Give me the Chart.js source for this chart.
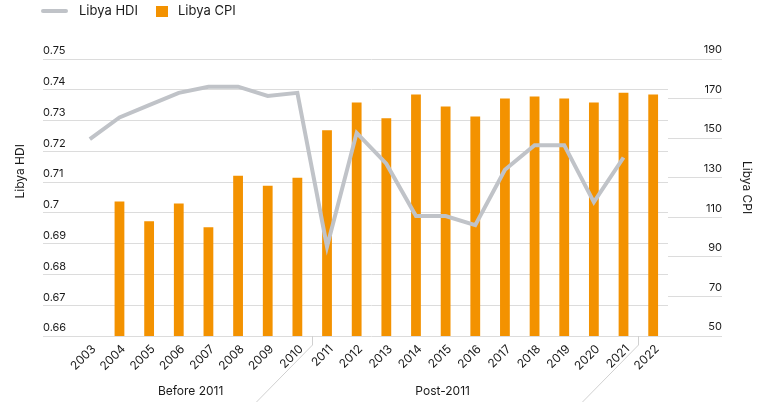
<!DOCTYPE html>
<html>
<head>
<meta charset="utf-8">
<script src="https://cdn.jsdelivr.net/npm/chart.js@4.4.1/dist/chart.umd.min.js"></script>
<style>
  html, body { margin: 0; padding: 0; background: #fff; }
  #wrap { width: 764px; height: 404px; position: relative; }
</style>
</head>
<body>
<div id="wrap"><canvas id="myChart"></canvas></div>
<script>
const years = ['2003', '2004', '2005', '2006', '2007', '2008', '2009', '2010', '2011', '2012',
               '2013', '2014', '2015', '2016', '2017', '2018', '2019', '2020', '2021', '2022'];
const hdiValues = [0.724, 0.731, 0.735, 0.739, 0.741, 0.741, 0.738, 0.739, 0.689, 0.726,
                   0.716, 0.699, 0.699, 0.696, 0.714, 0.722, 0.722, 0.7035, 0.718, null];
const cpiValues = [null, 118, 108, 117, 105, 131, 126, 130, 154, 168,
                   160, 172, 166, 161, 170, 171, 170, 168, 173, 172];
const groupLabels = ['Before 2011', 'Post-2011'];
const groupEnds = ['2010', '2021']; // separator drawn after these years

const textColor = '#1a1a1a';
const gridColor = '#dcdcdc';
Chart.defaults.font.family = 'Inter, "Noto Sans", sans-serif';
Chart.defaults.color = textColor;

// legend, axis titles, category groups
const extras = {
    id: 'extras',
    afterDraw(chart) {
        const { ctx, scales: { x, y, y2 } } = chart;
        const ds = chart.data.datasets;
        ctx.save();
        ctx.fillStyle = textColor;

        // legend
        ctx.font = '13px Inter, "Noto Sans", sans-serif';
        ctx.textBaseline = 'middle';
        ctx.textAlign = 'left';
        ctx.strokeStyle = ds[0].borderColor;
        ctx.lineWidth = 4;
        ctx.lineCap = 'round';
        ctx.beginPath();
        ctx.moveTo(43, 11);
        ctx.lineTo(66, 11);
        ctx.stroke();
        ctx.fillText(ds[0].label, 79, 11);
        ctx.fillStyle = ds[1].backgroundColor;
        ctx.fillRect(156, 6, 12, 11);
        ctx.fillStyle = textColor;
        ctx.fillText(ds[1].label, 178, 11);

        // axis titles
        ctx.font = '12px Inter, "Noto Sans", sans-serif';
        ctx.textAlign = 'center';
        ctx.save();
        ctx.translate(y.left - 23, y.getPixelForValue(0.7135));
        ctx.rotate(-Math.PI / 2);
        ctx.fillText(y.options.title.text, 0, 0);
        ctx.restore();
        ctx.save();
        ctx.translate(y2.right + 25, y2.getPixelForValue(125));
        ctx.rotate(Math.PI / 2);
        ctx.fillText(y2.options.title.text, 0, 0);
        ctx.restore();

        // group separators
        ctx.strokeStyle = '#d0d0d0';
        ctx.lineWidth = 1;
        ctx.lineCap = 'butt';
        groupEnds.forEach(yr => {
            const i = years.indexOf(yr);
            const bx = Math.round((x.getPixelForValue(i) + x.getPixelForValue(i + 1)) / 2) + 0.5;
            ctx.beginPath();
            ctx.moveTo(bx, x.top);
            ctx.lineTo(bx, x.top + 9);
            ctx.lineTo(bx - 56, x.top + 66);
            ctx.stroke();
        });

        // group labels
        ctx.fillStyle = textColor;
        const centers = [3.4, 11.9];
        groupLabels.forEach((g, k) => {
            ctx.fillText(g, x.getPixelForValue(centers[k]), x.top + 55);
        });
        ctx.restore();
    }
};

const ctx = document.getElementById('myChart').getContext('2d');
const myChart = new Chart(ctx, {
    type: 'bar',
    data: {
        labels: years,
        datasets: [{
            type: 'line',
            label: 'Libya HDI',
            data: hdiValues,
            yAxisID: 'y',
            borderColor: '#c0c3c8',
            backgroundColor: '#c0c3c8',
            borderWidth: 4,
            pointRadius: 0,
            tension: 0,
            spanGaps: false
        }, {
            type: 'bar',
            label: 'Libya CPI',
            data: cpiValues,
            yAxisID: 'y2',
            backgroundColor: '#f39200',
            barPercentage: 1,
            categoryPercentage: 0.33
        }]
    },
    options: {
        responsive: true,
        maintainAspectRatio: false,
        animation: false,
        layout: { padding: { left: 43, right: 42, top: 59, bottom: 0 } },
        plugins: {
            legend: { display: false },
            tooltip: { enabled: false }
        },
        scales: {
            x: {
                grid: { display: false, drawTicks: false },
                border: { display: false },
                ticks: {
                    minRotation: 45,
                    maxRotation: 45,
                    padding: 6,
                    labelOffset: 4,
                    font: { size: 12 },
                    color: textColor
                },
                afterFit(scale) { scale.height = 68; }
            },
            y: {
                position: 'left',
                min: 0.66,
                max: 0.75,
                title: { display: false, text: 'Libya HDI' },
                grid: { color: gridColor, tickColor: gridColor, tickLength: 32 },
                border: { display: false },
                ticks: {
                    stepSize: 0.01,
                    crossAlign: 'far',
                    labelOffset: -8,
                    font: { size: 11 },
                    color: textColor,
                    callback: v => String(+v.toFixed(2))
                },
                afterFit(scale) { scale.width = 32; }
            },
            y2: {
                position: 'right',
                min: 50,
                max: 190,
                title: { display: false, text: 'Libya CPI' },
                grid: { drawOnChartArea: false, color: gridColor, tickColor: gridColor, tickLength: 54 },
                border: { display: false },
                ticks: {
                    stepSize: 20,
                    crossAlign: 'far',
                    labelOffset: -9,
                    font: { size: 11 },
                    color: textColor
                },
                afterFit(scale) { scale.width = 54; }
            }
        }
    },
    plugins: [extras]
});
</script>
</body>
</html>
